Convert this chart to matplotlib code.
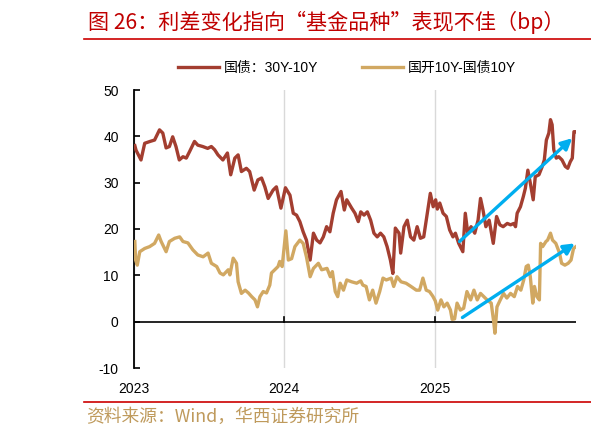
import pandas as pd
import matplotlib
matplotlib.use("Agg")
import matplotlib.pyplot as plt
from matplotlib.lines import Line2D

plt.rcParams['font.family'] = ['Liberation Sans', 'Noto Sans CJK SC', 'DejaVu Sans']
plt.rcParams['axes.unicode_minus'] = False

# 国债：30Y-10Y
red_dates = [
    "2023-01-03", "2023-01-06", "2023-01-18", "2023-01-27", "2023-02-09", "2023-02-20",
    "2023-03-04", "2023-03-12", "2023-03-20", "2023-03-28", "2023-04-05", "2023-04-13",
    "2023-04-21", "2023-04-30", "2023-05-08", "2023-05-16", "2023-05-28", "2023-06-05",
    "2023-06-17", "2023-06-29", "2023-07-08", "2023-07-16", "2023-07-24", "2023-08-05",
    "2023-08-16", "2023-08-24", "2023-09-03", "2023-09-11", "2023-09-19", "2023-10-01",
    "2023-10-09", "2023-10-20", "2023-10-29", "2023-11-07", "2023-11-15", "2023-11-23",
    "2023-12-05", "2023-12-13", "2023-12-24", "2024-01-04", "2024-01-15", "2024-01-23",
    "2024-01-31", "2024-02-08", "2024-02-16", "2024-02-24", "2024-03-04", "2024-03-12",
    "2024-03-20", "2024-03-28", "2024-04-05", "2024-04-13", "2024-04-21", "2024-04-29",
    "2024-05-07", "2024-05-18", "2024-05-26", "2024-06-01", "2024-06-13", "2024-06-21",
    "2024-06-29", "2024-07-05", "2024-07-13", "2024-07-21", "2024-07-29", "2024-08-06",
    "2024-08-14", "2024-08-22", "2024-08-30", "2024-09-07", "2024-09-15", "2024-09-21",
    "2024-09-27", "2024-10-06", "2024-10-10", "2024-10-18", "2024-10-26", "2024-11-03",
    "2024-11-11", "2024-11-19", "2024-11-27", "2024-12-05", "2024-12-13", "2024-12-21",
    "2024-12-28", "2025-01-03", "2025-01-07", "2025-01-13", "2025-01-21", "2025-01-29",
    "2025-02-06", "2025-02-14", "2025-02-20", "2025-02-28", "2025-03-10", "2025-03-16",
    "2025-03-22", "2025-03-30", "2025-04-08", "2025-04-16", "2025-04-22", "2025-04-28",
    "2025-05-05", "2025-05-13", "2025-05-23", "2025-05-31", "2025-06-08", "2025-06-16",
    "2025-06-26", "2025-07-04", "2025-07-12", "2025-07-16", "2025-07-20", "2025-07-28",
    "2025-08-04", "2025-08-09", "2025-08-15", "2025-08-21", "2025-08-28", "2025-09-02",
    "2025-09-11", "2025-09-19", "2025-09-24", "2025-09-29", "2025-10-05", "2025-10-09",
    "2025-10-13", "2025-10-17", "2025-10-23", "2025-10-29", "2025-11-06", "2025-11-14",
    "2025-11-20", "2025-11-26", "2025-12-01", "2025-12-05", "2025-12-09",
]
red_vals = [
    38.0, 37.0, 34.9, 38.5, 38.9, 39.2,
    41.4, 40.7, 37.5, 37.8, 39.9, 37.8,
    34.9, 35.6, 35.3, 36.7, 38.9, 38.1,
    37.8, 37.4, 37.8, 37.1, 36.0, 34.9,
    36.4, 31.7, 35.3, 36.0, 32.4, 33.1,
    32.4, 28.4, 30.6, 31.0, 29.1, 26.6,
    28.4, 29.1, 24.5, 28.9, 27.3, 23.4,
    23.0, 21.6, 19.4, 17.6, 13.3, 19.1,
    17.6, 17.0, 18.3, 20.5, 19.4, 23.4,
    26.3, 28.1, 24.1, 26.3, 24.5, 23.4,
    21.6, 23.7, 23.0, 23.7, 21.9, 19.1,
    18.3, 19.1, 18.3, 16.2, 13.3, 10.4,
    20.2, 19.1, 14.8, 20.5, 21.9, 18.3,
    17.6, 20.5, 18.0, 18.3, 23.0, 27.7,
    24.8, 26.3, 24.3, 25.6, 23.4, 22.7,
    19.8, 18.3, 19.1, 16.9, 15.1, 23.4,
    19.1, 20.5, 19.1, 21.9, 26.6, 24.1,
    20.5, 21.9, 16.9, 22.7, 20.9, 20.5,
    21.2, 20.9, 21.2, 20.5, 23.4, 24.8,
    27.0, 28.8, 32.7, 29.9, 26.3, 31.3,
    31.7, 33.5, 34.9, 39.2, 40.7, 43.6,
    42.5, 37.1, 35.3, 35.6, 34.9, 33.5,
    33.1, 34.5, 35.3, 41.0, 41.0,
]

# 国开10Y-国债10Y
gold_dates = [
    "2023-01-03", "2023-01-05", "2023-01-09", "2023-01-15", "2023-01-27", "2023-02-08",
    "2023-02-20", "2023-03-02", "2023-03-08", "2023-03-20", "2023-03-28", "2023-04-10",
    "2023-04-22", "2023-04-30", "2023-05-12", "2023-05-24", "2023-06-05", "2023-06-18",
    "2023-06-30", "2023-07-08", "2023-07-21", "2023-07-29", "2023-08-06", "2023-08-18",
    "2023-08-22", "2023-08-30", "2023-09-07", "2023-09-11", "2023-09-19", "2023-09-28",
    "2023-10-06", "2023-10-14", "2023-10-22", "2023-10-28", "2023-11-03", "2023-11-11",
    "2023-11-19", "2023-11-27", "2023-12-01", "2023-12-09", "2023-12-17", "2023-12-21",
    "2023-12-27", "2024-01-05", "2024-01-11", "2024-01-19", "2024-01-27", "2024-02-08",
    "2024-02-16", "2024-02-24", "2024-03-04", "2024-03-12", "2024-03-24", "2024-04-01",
    "2024-04-14", "2024-04-22", "2024-04-27", "2024-05-04", "2024-05-10", "2024-05-16",
    "2024-05-24", "2024-06-01", "2024-06-13", "2024-06-25", "2024-07-05", "2024-07-10",
    "2024-07-18", "2024-07-26", "2024-08-03", "2024-08-11", "2024-08-20", "2024-08-28",
    "2024-09-05", "2024-09-17", "2024-09-23", "2024-10-01", "2024-10-11", "2024-10-23",
    "2024-11-04", "2024-11-17", "2024-11-25", "2024-12-03", "2024-12-11", "2024-12-19",
    "2024-12-27", "2025-01-02", "2025-01-08", "2025-01-16", "2025-01-23", "2025-01-31",
    "2025-02-08", "2025-02-12", "2025-02-18", "2025-02-24", "2025-03-04", "2025-03-12",
    "2025-03-20", "2025-03-29", "2025-04-06", "2025-04-14", "2025-04-22", "2025-04-30",
    "2025-05-08", "2025-05-18", "2025-05-24", "2025-05-27", "2025-06-01", "2025-06-09",
    "2025-06-17", "2025-06-25", "2025-07-04", "2025-07-13", "2025-07-21", "2025-07-29",
    "2025-08-05", "2025-08-11", "2025-08-16", "2025-08-21", "2025-08-27", "2025-08-31",
    "2025-09-06", "2025-09-12", "2025-09-15", "2025-09-20", "2025-09-28", "2025-10-02",
    "2025-10-09", "2025-10-14", "2025-10-22", "2025-10-31", "2025-11-05", "2025-11-13",
    "2025-11-21", "2025-11-28", "2025-12-04", "2025-12-10",
]
gold_vals = [
    17.3, 13.3, 12.2, 15.1, 15.8, 16.2,
    16.9, 18.7, 17.3, 15.1, 17.3, 18.0,
    18.3, 17.3, 17.0, 15.5, 14.4, 14.0,
    14.8, 12.6, 11.9, 10.5, 10.1, 11.2,
    10.1, 13.7, 12.6, 8.6, 6.1, 6.8,
    6.2, 5.4, 4.7, 3.2, 5.4, 6.5,
    6.2, 7.9, 10.5, 11.2, 11.9, 13.0,
    11.9, 19.6, 13.3, 13.6, 16.2, 17.6,
    16.9, 14.0, 9.7, 11.5, 12.6, 11.2,
    11.5, 9.7, 10.8, 6.5, 5.4, 8.3,
    6.8, 9.0, 8.6, 8.3, 8.8, 7.9,
    7.6, 4.7, 6.8, 4.0, 6.5, 9.4,
    9.0, 9.4, 7.6, 9.7, 8.6, 8.3,
    7.6, 6.8, 6.8, 9.4, 6.8, 6.5,
    5.5, 4.5, 2.5, 4.7, 3.2, 4.0,
    2.5, 0.5, 0.6, 4.0, 2.5, 2.9,
    6.5, 4.7, 6.8, 4.7, 6.1, 5.4,
    4.7, 4.0, 0.0, -2.5, 3.2, 4.7,
    6.1, 5.1, 6.1, 5.4, 7.6, 6.8,
    9.0, 11.9, 12.2, 9.7, 4.0, 7.6,
    5.4, 4.7, 16.9, 16.2, 17.3, 17.6,
    19.1, 17.6, 16.9, 14.8, 12.6, 12.2,
    12.6, 13.3, 15.8, 16.2,
]

# trend arrows (start, end)
arrow_red = [("2025-03-02", 17.3), ("2025-12-01", 39.6)]
arrow_gold = [("2025-03-09", 0.9), ("2025-12-07", 16.9)]

years = ["2023-01-01", "2024-01-01", "2025-01-01"]
year_labels = ["2023", "2024", "2025"]
yticks = [-10, 0, 10, 20, 30, 40, 50]

RED = '#A33E30'
GOLD = '#D1A862'
BLUE = '#00AEEF'
TITLE_RED = '#C00000'

red = pd.Series(red_vals, index=pd.to_datetime(red_dates))
gold = pd.Series(gold_vals, index=pd.to_datetime(gold_dates))

fig = plt.figure(figsize=(5.91, 4.37), dpi=100)
ax = fig.add_axes([134 / 591, 1 - 368 / 437, 442 / 591, 278 / 437])

ax.plot(red.index, red.values, color=RED, lw=2.4, label='国债：30Y-10Y', zorder=3)
ax.plot(gold.index, gold.values, color=GOLD, lw=2.4, label='国开10Y-国债10Y', zorder=3)

for (d0, v0), (d1, v1) in [arrow_red, arrow_gold]:
    ax.annotate('', xy=(pd.Timestamp(d1), v1), xytext=(pd.Timestamp(d0), v0),
                arrowprops=dict(arrowstyle='-|>', color=BLUE, lw=2.4,
                                mutation_scale=16, shrinkA=0, shrinkB=0), zorder=4)

ax.axhline(0, color='black', lw=1.2, zorder=2)

ax.set_xlim(pd.Timestamp("2023-01-01"), pd.Timestamp("2025-12-10"))
ax.set_ylim(-10, 50)
ax.set_yticks(yticks)
ax.set_xticks(pd.to_datetime(years))
ax.set_xticklabels(year_labels)
ax.grid(axis='x', color='#d9d9d9', lw=1.0, zorder=1)

for s in ['top', 'right', 'bottom']:
    ax.spines[s].set_visible(False)
ax.spines['left'].set_linewidth(1.3)
ax.tick_params(axis='y', direction='in', length=4, width=1.2, pad=11, labelsize=10)
ax.tick_params(axis='x', length=0, pad=10, labelsize=10)

# small year ticks standing on the zero line
for yr in pd.to_datetime(years)[1:]:
    ax.plot([yr, yr], [0, 0.9], color='black', lw=1.2, zorder=2)

fig.legend(loc='center', bbox_to_anchor=(347 / 591, 1 - 68 / 437), ncol=2,
           frameon=False, fontsize=10, handlelength=2.9, handletextpad=0.35,
           columnspacing=3.2)

fig.text(88 / 591, 1 - 22 / 437, '图 26：利差变化指向“基金品种”表现不佳（bp）',
         color=TITLE_RED, fontsize=15.2, ha='left', va='center',
         family=['Noto Sans CJK SC', 'DejaVu Sans'])
fig.add_artist(Line2D([84 / 591, 1.0], [1 - 38.5 / 437] * 2, color='#CC0000', lw=1.2))
fig.add_artist(Line2D([84 / 591, 1.0], [1 - 401.5 / 437] * 2, color='#CC0000', lw=1.2))
fig.text(86 / 591, 1 - 417 / 437, '资料来源：Wind，华西证券研究所',
         color='#BF9A5C', fontsize=12.8, ha='left', va='center',
         family=['Noto Sans CJK SC', 'DejaVu Sans'])

fig.savefig('out.png', dpi=100)
